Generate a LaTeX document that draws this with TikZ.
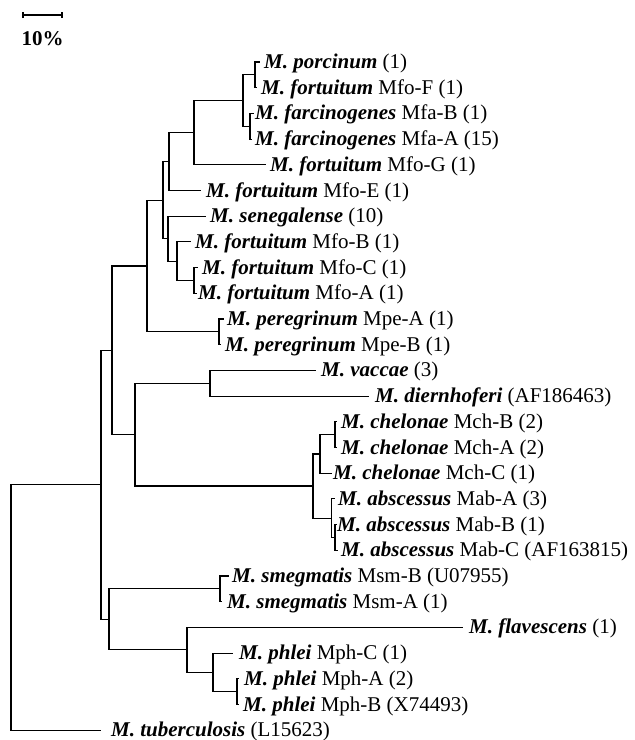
\documentclass[tikz,border=0pt]{standalone}
\usepackage{fontspec}
\setmainfont{Liberation Serif}
\newcommand\spn[1]{\textbf{\textit{#1}}}
\begin{document}
\begin{tikzpicture}[x=1pt,y=-1pt,
  br/.style={line width=1.15pt, line cap=rect},
  lab/.style={anchor=base west, inner sep=0pt, font=\fontsize{21}{24}\selectfont},
  sclab/.style={anchor=base, inner sep=0pt, font=\fontsize{21}{24}\selectfont\bfseries}]
\def\yo{62}\def\ys{25.7}
\useasboundingbox (0,0) rectangle (635,740);
\newcommand\leafnode[5]{%
  \coordinate (#1) at (#3,{\yo+\ys*(#2)});
  \node[lab] (#1t) at (#4,{\yo+\ys*(#2)+6.5}) {#5};}
\newcommand\inode[3]{\coordinate (#1) at (#2,{\yo+\ys*(#3)});}
% scale bar
\coordinate (sbA) at (23,15);
\coordinate (sbB) at (62,15);
\draw[br] (sbA) -- (sbB);
\draw[line width=1.15pt] ([yshift=-3pt]sbA) -- ([yshift=3pt]sbA);
\draw[line width=1.15pt] ([yshift=-3pt]sbB) -- ([yshift=3pt]sbB);
\node[sclab] (sbl) at (42.5,45) {10\%};
% leaves
\leafnode{L0}{0}{259}{264}{\spn{M. porcinum} (1)}
\leafnode{L1}{1}{256}{261}{\spn{M. fortuitum} Mfo-F (1)}
\leafnode{L2}{2}{253}{255}{\spn{M. farcinogenes} Mfa-B (1)}
\leafnode{L3}{3}{251}{255}{\spn{M. farcinogenes} Mfa-A (15)}
\leafnode{L4}{4}{265}{270}{\spn{M. fortuitum} Mfo-G (1)}
\leafnode{L5}{5}{200}{206}{\spn{M. fortuitum} Mfo-E (1)}
\leafnode{L6}{6}{205}{210}{\spn{M. senegalense} (10)}
\leafnode{L7}{7}{190}{195}{\spn{M. fortuitum} Mfo-B (1)}
\leafnode{L8}{8}{197}{202}{\spn{M. fortuitum} Mfo-C (1)}
\leafnode{L9}{9}{196}{198}{\spn{M. fortuitum} Mfo-A (1)}
\leafnode{L10}{10}{223}{227}{\spn{M. peregrinum} Mpe-A (1)}
\leafnode{L11}{11}{220}{225}{\spn{M. peregrinum} Mpe-B (1)}
\leafnode{L12}{12}{315}{321}{\spn{M. vaccae} (3)}
\leafnode{L13}{13}{368}{375}{\spn{M. diernhoferi} (AF186463)}
\leafnode{L14}{14}{336}{341}{\spn{M. chelonae} Mch-B (2)}
\leafnode{L15}{15}{336}{341}{\spn{M. chelonae} Mch-A (2)}
\leafnode{L16}{16}{331}{333}{\spn{M. chelonae} Mch-C (1)}
\leafnode{L17}{17}{334}{338}{\spn{M. abscessus} Mab-A (3)}
\leafnode{L18}{18}{336}{337}{\spn{M. abscessus} Mab-B (1)}
\leafnode{L19}{19}{337}{341}{\spn{M. abscessus} Mab-C (AF163815)}
\leafnode{L20}{20}{228}{232}{\spn{M. smegmatis} Msm-B (U07955)}
\leafnode{L21}{21}{221}{227}{\spn{M. smegmatis} Msm-A (1)}
\leafnode{L22}{22}{462}{469}{\spn{M. flavescens} (1)}
\leafnode{L23}{23}{232}{239}{\spn{M. phlei} Mph-C (1)}
\leafnode{L24}{24}{238}{244}{\spn{M. phlei} Mph-A (2)}
\leafnode{L25}{25}{238}{243}{\spn{M. phlei} Mph-B (X74493)}
\leafnode{L26}{26}{100}{111}{\spn{M. tuberculosis} (L15623)}
% internal nodes
\inode{N0}{255}{0.5}
\inode{N2}{250}{2.5}
\inode{P1}{243}{1.5}
\inode{P2}{194}{2.75}
\inode{P3}{169}{3.875}
\inode{P8}{194}{8.5}
\inode{P6}{177}{7.75}
\inode{P5}{168}{6.875}
\inode{P4}{163}{5.375}
\inode{NM}{219}{10.5}
\inode{P7}{147}{7.9375}
\inode{P12}{210}{12.5}
\inode{P13}{335}{14.5}
\inode{P14}{320}{15.25}
\inode{P15a}{335}{18.5}
\inode{P15}{331.5}{17.75}
\inode{P16}{313}{16.5}
\inode{P10}{135}{14.5}
\inode{P9}{112}{11.21875}
\inode{P17}{220}{20.5}
\inode{P18}{237}{24.5}
\inode{P19}{213}{23.75}
\inode{P20}{187}{22.875}
\inode{P21}{109}{21.6875}
\inode{P11}{101}{16.453125}
\inode{RT}{11}{21.2265625}
% branches
\draw[br] (N0) |- (L0); \draw[br] (N0) |- (L1);
\draw[br] (N2) |- (L2); \draw[br] (N2) |- (L3);
\draw[br] (P1) |- (N0); \draw[br] (P1) |- (N2);
\draw[br] (P2) |- (P1); \draw[br] (P2) |- (L4);
\draw[br] (P3) |- (P2); \draw[br] (P3) |- (L5);
\draw[br] (P8) |- (L8); \draw[br] (P8) |- (L9);
\draw[br] (P6) |- (L7); \draw[br] (P6) |- (P8);
\draw[br] (P5) |- (L6); \draw[br] (P5) |- (P6);
\draw[br] (P4) |- (P3); \draw[br] (P4) |- (P5);
\draw[br] (NM) |- (L10); \draw[br] (NM) |- (L11);
\draw[br] (P7) |- (P4); \draw[br] (P7) |- (NM);
\draw[br] (P12) |- (L12); \draw[br] (P12) |- (L13);
\draw[br] (P13) |- (L14); \draw[br] (P13) |- (L15);
\draw[br] (P14) |- (P13); \draw[br] (P14) |- (L16);
\draw[br] (P15a) |- (L18); \draw[br] (P15a) |- (L19);
\draw[br] (P15) |- (L17); \draw[br] (P15) |- (P15a);
\draw[br] (P16) |- (P14); \draw[br] (P16) |- (P15);
\draw[br] (P10) |- (P12); \draw[br] (P10) |- (P16);
\draw[br] (P9) |- (P7); \draw[br] (P9) |- (P10);
\draw[br] (P17) |- (L20); \draw[br] (P17) |- (L21);
\draw[br] (P18) |- (L24); \draw[br] (P18) |- (L25);
\draw[br] (P19) |- (L23); \draw[br] (P19) |- (P18);
\draw[br] (P20) |- (L22); \draw[br] (P20) |- (P19);
\draw[br] (P21) |- (P17); \draw[br] (P21) |- (P20);
\draw[br] (P11) |- (P9); \draw[br] (P11) |- (P21);
\draw[br] (RT) |- (P11); \draw[br] (RT) |- (L26);
\end{tikzpicture}
\end{document}
